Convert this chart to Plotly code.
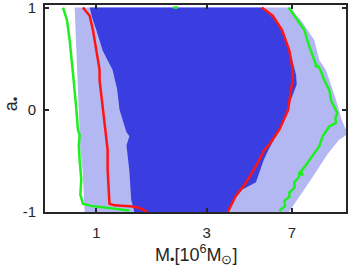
import plotly.graph_objects as go

# Light blue region boundaries (spin a, mass M in 1e6 Msun)
light_left_a = [-1.0, -0.6, -0.4, 0.0, 0.3, 1.0]
light_left_M = [0.89, 0.873, 0.853, 0.84, 0.833, 0.806]
light_right_a = [1.0, 0.93, 0.876, 0.78, 0.682, 0.487, 0.39, 0.097, -0.1, -0.195, -0.25, -0.292, -0.438, -0.682, -0.876, -1.0]
light_right_M = [6.94, 7.3, 7.67, 8.2, 8.75, 9.2, 9.83, 10.86, 11.5, 12.0, 12.0, 11.2, 9.96, 8.47, 7.39, 6.8]

# Dark blue region boundaries
dark_left_a = [-1.0, -0.88, -0.6, -0.35, -0.26, -0.22, 0.0, 0.2, 0.39, 0.58, 0.78, 0.9, 1.0]
dark_left_M = [1.46, 1.415, 1.39, 1.35, 1.39, 1.35, 1.26, 1.23, 1.176, 1.065, 1.0, 0.96, 0.936]
dark_right_a = [1.0, 0.95, 0.876, 0.682, 0.487, 0.34, 0.25, 0.097, 0.0, -0.195, -0.39, -0.487, -0.71, -0.78, -0.876, -1.0]
dark_right_M = [5.16, 5.5, 5.98, 6.6, 7.03, 7.3, 7.35, 6.94, 6.69, 6.18, 5.55, 5.3, 4.9, 4.28, 3.95, 3.69]

# Red contour
red_a = [1.0, 0.92, 0.78, 0.58, 0.39, 0.29, 0.0, -0.29, -0.39, -0.58, -0.92, -0.935, -0.945, -0.96, -1.0,
         None,
         1.0, 0.92, 0.78, 0.58, 0.39, 0.29, 0.195, 0.097, 0.0, -0.195, -0.34, -0.39, -0.55, -0.71, -0.845, -1.0]
red_M = [0.875, 0.936, 0.967, 1.0, 1.033, 1.033, 1.068, 1.104, 1.119, 1.119, 1.14, 1.2, 1.435, 1.537, 1.664,
         None,
         5.19, 5.79, 6.35, 6.83, 7.06, 7.06, 6.94, 6.83, 6.75, 6.18, 5.6, 5.33, 4.9, 4.45, 4.0, 3.7]

# Green contour
green_a = [1.0, 0.876, 0.682, 0.487, 0.29, 0.0, -0.195, -0.25, -0.35, -0.49, -0.58, -0.68, -0.83, -0.92, -0.94, -0.96, -0.985,
           None,
           1.0, 0.93, 0.876, 0.78, 0.7, 0.616, 0.487, 0.44, 0.42, 0.43, 0.39, 0.29, 0.195, 0.097, 0.06, 0.032, -0.03, -0.08,
           -0.127, -0.163, -0.26, -0.357, -0.42, -0.487, -0.55, -0.6, -0.64, -0.62, -0.66, -0.71, -0.76, -0.81, -0.85, -0.89, -0.94, -0.99,
           None,
           1.0, 1.0]
green_M = [0.718, 0.747, 0.767, 0.78, 0.798, 0.82, 0.833, 0.847, 0.84, 0.847, 0.855, 0.861, 0.853, 0.875, 0.95, 1.15, 1.39,
           None,
           6.78, 7.1, 7.41, 7.93, 8.1, 8.33, 8.75, 8.9, 8.85, 9.05, 9.3, 9.67, 10.16, 10.33, 10.5, 10.67, 11.0, 10.8,
           10.86, 10.16, 9.51, 9.2, 8.8, 8.33, 8.0, 7.67, 7.8, 7.55, 7.5, 7.17, 7.2, 6.83, 6.85, 6.5, 6.55, 6.18,
           None,
           2.15, 2.25]

x_ticks = [1, 3, 7]
y_ticks = [-1, 0, 1]
x_title = "M<sub>•</sub>[10<sup>6</sup>M<sub>⊙</sub>]"
y_title = "a<sub>•</sub>"

FONT = "Liberation Sans"
TXT = "rgb(38,38,38)"

fig = go.Figure()

fig.add_trace(go.Scatter(
    x=light_left_M + light_right_M, y=light_left_a + light_right_a,
    fill="toself", fillcolor="rgb(180,184,242)", mode="lines",
    line=dict(width=0, color="rgb(180,184,242)"), hoverinfo="skip", showlegend=False))
fig.add_trace(go.Scatter(
    x=dark_left_M + dark_right_M, y=dark_left_a + dark_right_a,
    fill="toself", fillcolor="rgb(58,62,224)", mode="lines",
    line=dict(width=0, color="rgb(58,62,224)"), hoverinfo="skip", showlegend=False))
fig.add_trace(go.Scatter(x=green_M, y=green_a, mode="lines",
                         line=dict(color="rgb(30,240,30)", width=2.5), showlegend=False))
fig.add_trace(go.Scatter(x=red_M, y=red_a, mode="lines",
                         line=dict(color="rgb(255,20,20)", width=2.5), showlegend=False))

axis_common = dict(showgrid=False, zeroline=False, showline=True, linewidth=2,
                   linecolor=TXT, mirror="ticks", ticks="inside", automargin=False,
                   ticklen=4, tickwidth=1.5, tickcolor=TXT, ticklabeloverflow="allow",
                   tickfont=dict(family=FONT, size=15, color=TXT))

fig.update_xaxes(type="log", range=[-0.2218, 1.0792], tickvals=x_ticks,
                 ticktext=[str(v) for v in x_ticks], ticklabelstandoff=6, **axis_common)
fig.update_yaxes(range=[-1, 1.025], tickvals=y_ticks,
                 ticktext=[str(v) for v in y_ticks], ticklabelstandoff=4, **axis_common)

fig.add_annotation(text=x_title, xref="paper", yref="paper", x=0.5, y=-0.205,
                   xanchor="center", yanchor="middle", showarrow=False,
                   font=dict(family=FONT, size=18, color=TXT))
fig.add_annotation(text=y_title, xref="paper", yref="paper", x=-0.11, y=0.52,
                   xanchor="center", yanchor="middle", showarrow=False, textangle=-90,
                   font=dict(family=FONT, size=18, color=TXT))

fig.update_layout(width=350, height=272, margin=dict(l=45, r=4, t=5, b=60),
                  plot_bgcolor="white", paper_bgcolor="white")

fig.write_html("out.html", config={"displayModeBar": False},
               post_script="document.body.style.margin='0';document.body.style.overflow='hidden';")
